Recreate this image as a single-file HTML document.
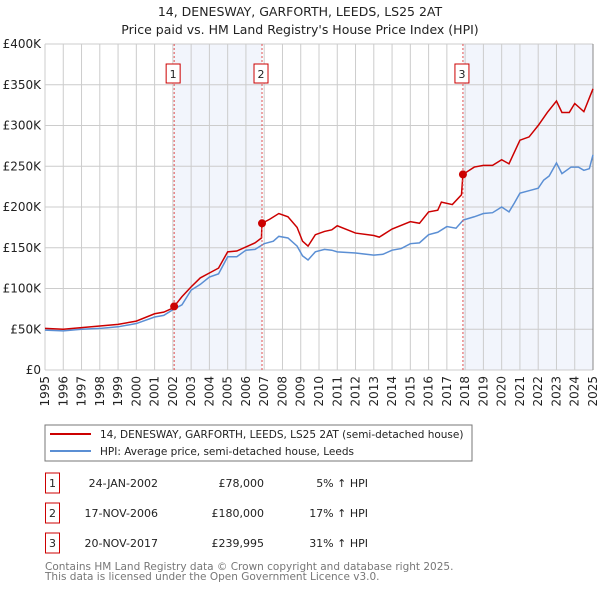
<!DOCTYPE html>
<html><head><meta charset="utf-8"><style>
body{margin:0;background:#fff;}
svg text{font-family:"DejaVu Sans","Liberation Sans",sans-serif;}
</style></head><body>
<svg id="c" width="600" height="590" viewBox="0 0 600 590" xmlns="http://www.w3.org/2000/svg">
<text x="300" y="16" text-anchor="middle" font-size="12.5" fill="#222">14, DENESWAY, GARFORTH, LEEDS, LS25 2AT</text>
<text x="300" y="34" text-anchor="middle" font-size="12.5" fill="#222">Price paid vs. HM Land Registry's House Price Index (HPI)</text>
<g id="shade"></g><g id="grid"></g><g id="axes"></g><g id="series"></g><g id="markers"></g>
<rect x="45" y="425" width="427" height="36" fill="#fff" stroke="#777"/>
<line x1="50" y1="434" x2="91" y2="434" stroke="#cc0000" stroke-width="2"/>
<text x="100" y="438" font-size="10.5" fill="#222">14, DENESWAY, GARFORTH, LEEDS, LS25 2AT (semi-detached house)</text>
<line x1="50" y1="451" x2="91" y2="451" stroke="#5b8fd4" stroke-width="2"/>
<text x="100" y="455" font-size="10.5" fill="#222">HPI: Average price, semi-detached house, Leeds</text>
<g id="table"></g>
<text x="45" y="570" font-size="10.5" fill="#777">Contains HM Land Registry data © Crown copyright and database right 2025.</text>
<text x="45" y="580" font-size="10.5" fill="#777">This data is licensed under the Open Government Licence v3.0.</text>
</svg>
<script>
const yTicks=[0,50,100,150,200,250,300,350,400];
const yTickLabels=["£0","£50K","£100K","£150K","£200K","£250K","£300K","£350K","£400K"];
const xYears=[1995,1996,1997,1998,1999,2000,2001,2002,2003,2004,2005,2006,2007,2008,2009,2010,2011,2012,2013,2014,2015,2016,2017,2018,2019,2020,2021,2022,2023,2024,2025];
const hpiT=[1995,1996,1997,1998,1999,2000,2001,2001.5,2002,2002.5,2003,2003.5,2004,2004.5,2005,2005.5,2006,2006.5,2007,2007.5,2007.8,2008.3,2008.8,2009.1,2009.4,2009.8,2010.3,2010.7,2011,2012,2013,2013.5,2014,2014.5,2015,2015.5,2016,2016.5,2017,2017.5,2017.9,2018.5,2019,2019.5,2020,2020.4,2020.7,2021,2021.5,2022,2022.3,2022.6,2023,2023.3,2023.8,2024.2,2024.5,2024.8,2025];
const hpiV=[49,48,50,51,53,57,65,67,74,80,98,105,114,118,139,139,147,148,155,158,164,162,152,140,135,145,148,147,145,143.5,141,142,147,149,155,156,166,169,176,174,184,188,192,193,200,194,205,217,220,223,233,238,254,241,249,249,245,247,264];
const priceT=[1995,1996,1997,1998,1999,2000,2001,2001.5,2002,2002.07,2002.5,2003,2003.5,2004,2004.5,2005,2005.5,2006,2006.5,2006.85,2006.88,2007.3,2007.8,2008.3,2008.8,2009.1,2009.4,2009.8,2010.3,2010.7,2011,2012,2013,2013.3,2014,2015,2015.5,2016,2016.5,2016.7,2017.3,2017.8,2017.88,2018.5,2019,2019.5,2020,2020.4,2021,2021.5,2022,2022.5,2023,2023.3,2023.7,2024,2024.5,2025];
const priceV=[51,50,52,54,56,60,69,71,76,78,90,102,113,119,125,145,146,151,156,162,180,185,192,188,175,158,152,166,170,172,177,168,165,163,173,182,180,194,196,206,203,215,240,249,251,251,258,253,282,286,300,316,330,316,316,327,317,345];
const saleT=[2002.07,2006.88,2017.88];
const saleV=[78,180,239.995];
const saleLabels=["1","2","3"];
const saleDates=["24-JAN-2002","17-NOV-2006","20-NOV-2017"];
const salePrices=["£78,000","£180,000","£239,995"];
const saleHpi=["5% ↑ HPI","17% ↑ HPI","31% ↑ HPI"];

const L=45,R=593,T=44,B=370;
const x=t=>L+(t-1995)*(R-L)/30;
const y=v=>B-v*(B-T)/400;
const NS="http://www.w3.org/2000/svg";
function mk(parent,tag,attrs){const e=document.createElementNS(NS,tag);for(const k in attrs)e.setAttribute(k,attrs[k]);document.getElementById(parent).appendChild(e);return e;}

let e;
e=mk('shade','rect',{x:x(saleT[0]),y:T,width:x(saleT[1])-x(saleT[0]),height:B-T,fill:'#f2f5fc'});


e=mk('shade','rect',{x:x(saleT[2]),y:T,width:R-x(saleT[2]),height:B-T,fill:'#f2f5fc'});



yTicks.forEach((v,i)=>{
 e=mk('grid','line',{x1:L,x2:R,y1:y(v),y2:y(v),stroke:'#cccccc','stroke-width':1});
 
 
 e=mk('axes','text',{x:L-4,y:y(v)+4,'text-anchor':'end','font-size':12,fill:'#222'});
 e.textContent=yTickLabels[i];
 
 
});
xYears.forEach(yr=>{
 e=mk('grid','line',{x1:x(yr),x2:x(yr),y1:T,y2:B,stroke:'#cccccc','stroke-width':1});
 
 
 e=mk('axes','text',{x:0,y:0,'text-anchor':'end','font-size':12,fill:'#222',transform:`translate(${x(yr)+4},${B+6}) rotate(-90)`});
 e.textContent=yr;
 
 
});
e=mk('axes','line',{x1:R,x2:R,y1:T,y2:B,stroke:'#888','stroke-width':1});



e=mk('series','polyline',{points:hpiT.map((t,i)=>x(t)+','+y(hpiV[i])).join(' '),fill:'none',stroke:'#5b8fd4','stroke-width':1.5});


e=mk('series','polyline',{points:priceT.map((t,i)=>x(t)+','+y(priceV[i])).join(' '),fill:'none',stroke:'#cc0000','stroke-width':1.5});



saleT.forEach((t,i)=>{
 e=mk('markers','line',{x1:x(t),x2:x(t),y1:T,y2:B,stroke:'#e05050','stroke-width':1,'stroke-dasharray':'2,2'});
 
 
 e=mk('markers','circle',{cx:x(t),cy:y(saleV[i]),r:4,fill:'#cc0000'});
 
 
 e=mk('markers','rect',{x:x(t)-8,y:64,width:14,height:19,fill:'#fff',stroke:'#cc0000'});
 
 
 e=mk('markers','text',{x:x(t)-1,y:78,'text-anchor':'middle','font-size':11,fill:'#222'});
 e.textContent=saleLabels[i];
 
 
 const ry=483+i*30;
 e=mk('table','rect',{x:45.5,y:ry-10,width:14,height:20,fill:'#fff',stroke:'#cc0000'});
 
 
 e=mk('table','text',{x:52.5,y:ry+4,'text-anchor':'middle','font-size':11,fill:'#222'});
 e.textContent=saleLabels[i];
 
 
 e=mk('table','text',{x:158,y:ry+4,'text-anchor':'end','font-size':11,fill:'#222'});
 e.textContent=saleDates[i];
 
 
 e=mk('table','text',{x:264,y:ry+4,'text-anchor':'end','font-size':11,fill:'#222'});
 e.textContent=salePrices[i];
 
 
 e=mk('table','text',{x:368,y:ry+4,'text-anchor':'end','font-size':11,fill:'#222'});
 e.textContent=saleHpi[i];
 
 
});
</script>
</body></html>
